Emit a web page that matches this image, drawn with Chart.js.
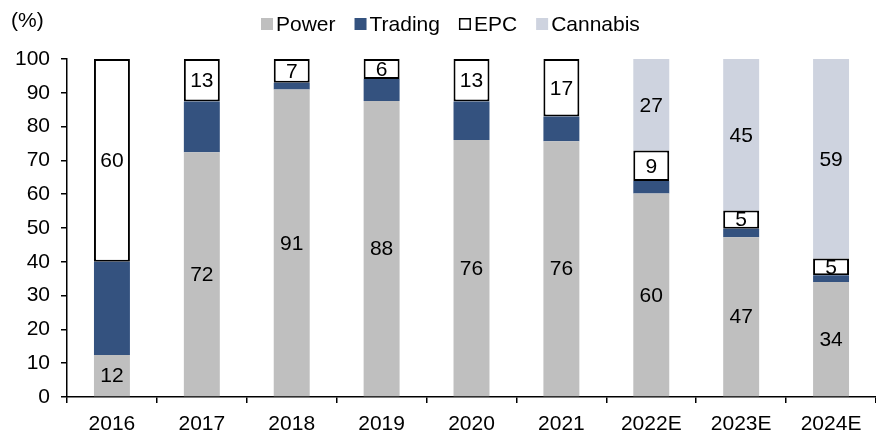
<!DOCTYPE html>
<html>
<head>
<meta charset="utf-8">
<script src="https://cdn.jsdelivr.net/npm/chart.js@4/dist/chart.umd.min.js"></script>
<style>
  html, body { margin: 0; padding: 0; background: #fff; }
  #wrap { width: 876px; height: 437px; position: relative; }
</style>
</head>
<body>
<div id="wrap"><canvas id="chart"></canvas></div>
<script>
const years = ['2016', '2017', '2018', '2019', '2020', '2021', '2022E', '2023E', '2024E'];
const power = [12.4, 72.4, 91, 87.6, 76, 75.7, 60.2, 47.3, 34];
const trading = [27.6, 15, 2, 6.5, 11.4, 7.3, 3.7, 2.5, 2];
const epc = [60, 12.6, 7, 5.9, 12.6, 17, 9, 5.4, 5];
const cannabis = [0, 0, 0, 0, 0, 0, 27.1, 44.8, 59];
const yTicks = [0, 10, 20, 30, 40, 50, 60, 70, 80, 90, 100];

const FONT = 'Liberation Sans, Arial, sans-serif';
const SIZE = 21;

// which series get a number printed inside
const labelled = { Power: true, Trading: false, EPC: true, Cannabis: true };

const segLabels = {
  id: 'segLabels',
  afterDatasetsDraw(chart) {
    const ctx = chart.ctx;
    ctx.save();
    ctx.font = SIZE + 'px ' + FONT;
    ctx.fillStyle = '#000';
    ctx.textAlign = 'center';
    ctx.textBaseline = 'middle';
    chart.data.datasets.forEach((ds, i) => {
      if (!labelled[ds.label]) return;
      chart.getDatasetMeta(i).data.forEach((bar, j) => {
        const v = ds.data[j];
        if (!v) return;
        const mid = (bar.y + bar.base) / 2;
        ctx.fillText(String(Math.round(v)), bar.x, mid + 1);
      });
    });
    ctx.restore();
  }
};

const topLegend = {
  id: 'topLegend',
  afterDraw(chart) {
    const ctx = chart.ctx;
    ctx.save();
    ctx.font = SIZE + 'px ' + FONT;
    ctx.textBaseline = 'middle';
    ctx.fillStyle = '#000';
    ctx.textAlign = 'left';
    ctx.fillText('(%)', 11, 21);
    let x = 261;
    const y = 24;
    chart.data.datasets.forEach(ds => {
      ctx.fillStyle = ds.backgroundColor;
      ctx.fillRect(x, y - 6, 12, 12);
      if (ds.borderWidth) {
        ctx.strokeStyle = '#000';
        ctx.lineWidth = 1.5;
        ctx.strokeRect(x + 0.75, y - 5.25, 10.5, 10.5);
      }
      ctx.fillStyle = '#000';
      ctx.fillText(ds.label, x + 15, y + 1);
      x += 15 + ctx.measureText(ds.label).width + 19;
    });
    ctx.restore();
  }
};

new Chart(document.getElementById('chart'), {
  type: 'bar',
  data: {
    labels: years,
    datasets: [
      { label: 'Power', data: power, backgroundColor: '#bfbfbf', borderWidth: 0 },
      { label: 'Trading', data: trading, backgroundColor: '#34527f', borderWidth: 0 },
      { label: 'EPC', data: epc, backgroundColor: '#ffffff', borderColor: '#000000', borderWidth: 2, borderSkipped: false },
      { label: 'Cannabis', data: cannabis, backgroundColor: '#ced3df', borderWidth: 0 }
    ]
  },
  options: {
    responsive: true,
    maintainAspectRatio: false,
    animation: false,
    datasets: { bar: { categoryPercentage: 1, barPercentage: 0.4 } },
    layout: { padding: { top: 59, right: 0, left: 0, bottom: 0 } },
    plugins: { legend: { display: false }, tooltip: { enabled: false } },
    scales: {
      x: {
        stacked: true,
        grid: { drawOnChartArea: false, offset: true, tickLength: 6, color: '#000', lineWidth: 1.5 },
        border: { color: '#000', width: 1.5 },
        ticks: { color: '#000', font: { family: FONT, size: SIZE }, padding: 9, maxRotation: 0 },
        afterFit(scale) { scale.height = 40; }
      },
      y: {
        stacked: true,
        min: 0,
        max: 100,
        afterBuildTicks(scale) { scale.ticks = yTicks.map(v => ({ value: v })); },
        grid: { drawOnChartArea: false, tickLength: 6, color: '#000', lineWidth: 1.5 },
        border: { color: '#000', width: 1.5 },
        ticks: { color: '#000', font: { family: FONT, size: SIZE }, padding: 11 },
        afterFit(scale) { scale.width = 67; }
      }
    }
  },
  plugins: [segLabels, topLegend]
});
</script>
</body>
</html>
